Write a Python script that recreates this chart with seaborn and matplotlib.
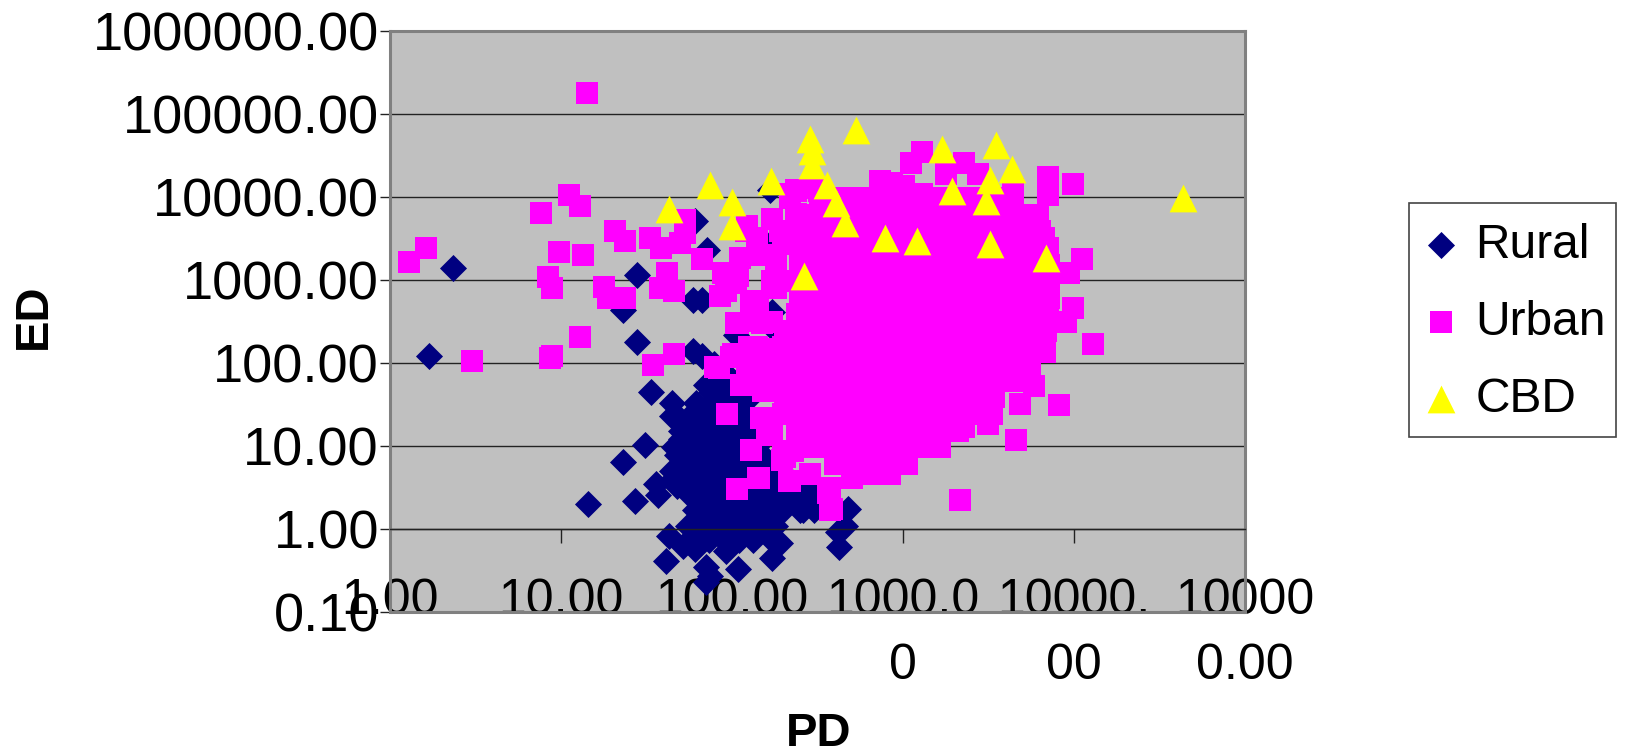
import pandas as pd
import seaborn as sns
import matplotlib
matplotlib.use('Agg')
import matplotlib.pyplot as plt
from matplotlib.patches import Rectangle

sns.set_style("ticks")
plt.rcParams['font.family'] = ['Liberation Sans', 'DejaVu Sans']
plt.rcParams['text.color'] = 'black'
plt.rcParams['xtick.labelcolor'] = 'black'
plt.rcParams['ytick.labelcolor'] = 'black'

# values (log-log, so everything is estimated)
x_ticks = [1, 10, 100, 1000, 10000, 100000]
x_labels = ['1.00', '10.00', '100.00', '1000.0\n0', '10000.\n00', '10000\n0.00']
y_ticks = [0.1, 1, 10, 100, 1000, 10000, 100000, 1000000]
y_labels = ['0.10', '1.00', '10.00', '100.00', '1000.00', '10000.00', '100000.00', '1000000.00']

cbd_pd = [42.7, 74.6, 100, 100, 168, 265, 285, 293, 293, 360, 403, 457, 534, 790, 1200,
          1680, 1930, 3510, 4330, 3230, 3050, 3230, 6860, 43300]
cbd_ed = [7080, 14100, 8700, 4470, 15800, 1120, 50000, 35500, 24500, 13800, 8400, 4900, 64700, 3240, 2990,
          37600, 11900, 42200, 21900, 16200, 8900, 2750, 1820, 9800]

# urban points that stand clear of the dense cloud
urban_pd = [14.2, 11.1, 12.9, 7.6, 20.7, 23.7, 33, 38.5, 49.6, 53, 53, 67, 41.7, 38, 46, 17.9, 23.7, 18.9,
            8.4, 8.9, 9.7, 13.4, 1.29, 1.62, 12.9, 8.6, 8.8, 3.0, 34.5, 45.5, 84, 101, 93, 148, 129, 197,
            216, 143, 107, 385, 364, 121, 150, 172, 218, 324, 109, 92, 109, 172, 130, 150, 185, 125, 99,
            156, 172, 136, 113, 80, 237,
            1290, 1120, 2280, 1790, 2730, 735, 860, 1010, 1290, 7080, 7080, 9860, 4370, 6170, 6720, 7080,
            11200, 9330, 9860, 8980, 12900, 8130, 5800, 4830, 4600, 3150, 2280, 2150, 6800, 1500, 1015,
            700, 505, 372, 372, 218, 203, 130, 142, 172,
            190, 198, 122, 140, 112, 88, 106, 84.6, 141, 182, 141, 106, 172, 140, 102, 218, 218, 237, 296,
            237, 265, 182, 160, 198, 227, 286, 505, 166, 123, 152, 210]
urban_ed = [178000, 10500, 7800, 6400, 3900, 2950, 3200, 2430, 2790, 3660, 5290, 1790, 1210, 800, 740, 820,
            600, 600, 1090, 800, 2180, 2000, 1630, 2420, 205, 115, 120, 105, 95, 128, 87, 128, 24, 22, 9,
            6.8, 3.8, 4.1, 3.0, 1.74, 2.7, 3860, 1990, 5500, 9700, 11900, 1120, 730, 306, 970, 550, 306,
            149, 158, 119, 84, 47, 112, 54, 89, 12300,
            34600, 25800, 25800, 18800, 18800, 15500, 14700, 13500, 11000, 17300, 10600, 14500, 12600,
            5960, 3240, 2250, 1780, 1230, 457, 309, 168, 31, 53, 32, 11.9, 18.3, 16.8, 2.24, 137, 11.6,
            6.7, 4.6, 4.1, 1.7, 3.1, 3.8, 7.3, 8.9, 4.1, 13.7,
            3870, 2750, 4470, 3250, 1830, 1230, 920, 650, 565, 795, 325, 306, 315, 154, 130, 154, 10900,
            11900, 12900, 6300, 4730, 1540, 15, 8, 8.7, 4.6, 4.6, 80, 75, 46, 37]

# dense cloud, one estimated PD list per ED band
urban_band_ed = [9700, 6100, 3860, 2450, 1530, 970, 610, 390, 245, 154, 97, 61, 39, 24, 15, 9.7, 6.1, 4.6]
urban_band_pd = [
    [325, 420, 530, 670, 850, 1080, 1370, 1730, 2200, 2780, 3500, 4400],
    [260, 330, 415, 530, 670, 850, 1070, 1360, 1720, 2190, 2770, 3510, 4450, 5640],
    [258, 328, 415, 527, 668, 847, 1070, 1360, 1725, 2190, 2770, 3510, 4450, 5640, 6300],
    [255, 325, 410, 525, 665, 845, 1065, 1355, 1720, 2185, 2765, 3505, 4445, 5635, 7000],
    [250, 320, 415, 530, 670, 850, 1075, 1365, 1730, 2195, 2775, 3515, 4455, 5645, 7100],
    [205, 260, 330, 420, 530, 670, 850, 1070, 1360, 1725, 2190, 2770, 3510, 4450, 5640, 7150],
    [250, 325, 415, 527, 668, 847, 1070, 1360, 1725, 2190, 2770, 3510, 4450, 5640, 7100],
    [240, 310, 400, 520, 660, 840, 1065, 1355, 1720, 2185, 2765, 3505, 4445, 5635, 7000],
    [205, 258, 328, 415, 527, 668, 847, 1070, 1360, 1725, 2190, 2770, 3510, 4450, 5640, 6900],
    [200, 255, 325, 410, 525, 665, 845, 1065, 1355, 1720, 2185, 2765, 3505, 4445, 5635, 6700],
    [195, 250, 320, 415, 530, 670, 850, 1075, 1365, 1730, 2195, 2775, 3515, 4455, 5500],
    [200, 258, 328, 415, 527, 668, 847, 1070, 1360, 1725, 2190, 2770, 3510, 4450],
    [205, 260, 330, 420, 530, 670, 850, 1070, 1360, 1725, 2190, 2770, 3400],
    [200, 255, 325, 410, 525, 665, 845, 1065, 1355, 1720, 2185, 2700, 3300],
    [240, 310, 400, 520, 660, 840, 1065, 1355, 1720, 2100],
    [300, 380, 480, 610, 780, 990, 1260, 1650],
    [400, 510, 650, 830, 1050],
    [520, 660, 840],
]

# rural points around the lower left of the cloud
rural_pd = [2.34, 1.68, 28, 23, 28, 33.6, 44.5, 44.5, 23, 31, 14.4, 27, 36, 44.5, 37, 43, 41, 52, 60.6, 70,
            74, 70, 108, 92, 172, 190, 172, 425, 457, 480, 415, 260, 322, 60.6, 71.5, 59, 67, 166, 160,
            172, 185, 59, 67, 79, 70, 92, 106, 86, 121]
rural_ed = [1410, 122, 1150, 435, 178, 45, 33, 23, 6.5, 10.3, 2, 2.2, 3.5, 5, 2.6, 0.82, 0.41, 0.63, 0.58,
            0.35, 0.27, 0.23, 0.33, 0.55, 0.45, 0.68, 0.73, 0.6, 1.1, 1.73, 0.92, 1.7, 2.7, 5130, 2300,
            575, 575, 12300, 2650, 410, 230, 141, 122, 97, 54, 73, 218, 41, 35]
rural_band_ed = [60, 45, 33, 23, 19, 15, 12, 9.7, 7.8, 6.3, 5.1, 4.1, 3.3, 2.7, 2.1, 1.7, 1.1, 0.73]
rural_band_pd = [
    [85, 100, 120],
    [75, 90, 108, 125],
    [62, 75, 90, 108],
    [48, 57, 68, 82, 98, 120],
    [55, 65, 78, 95, 112],
    [50, 60, 72, 88, 105, 125],
    [50, 60, 72, 88, 105, 125, 145],
    [46, 55, 66, 79, 95, 115, 138],
    [48, 58, 70, 85, 102, 125, 150],
    [53, 64, 76, 92, 112, 135, 165],
    [50, 60, 72, 88, 108, 130, 158, 190],
    [46, 55, 67, 81, 98, 118, 143, 175, 205],
    [48, 58, 70, 86, 105, 128, 160, 195, 240, 285],
    [55, 67, 82, 100, 122, 150, 185, 225, 275],
    [63, 77, 94, 115, 140, 172, 210, 260, 310],
    [61, 74, 90, 110, 135, 165, 200, 250, 300],
    [55, 67, 82, 100, 122, 150, 178],
    [60, 73, 90, 110, 132],
]


def build_table(pd_list, ed_list, band_ed, band_pd):
    xs = list(pd_list)
    ys = list(ed_list)
    for ed, row in zip(band_ed, band_pd):
        xs += row
        ys += [ed] * len(row)
    return pd.DataFrame({'PD': xs, 'ED': ys})


rural = build_table(rural_pd, rural_ed, rural_band_ed, rural_band_pd)
urban = build_table(urban_pd, urban_ed, urban_band_ed, urban_band_pd)
cbd = pd.DataFrame({'PD': cbd_pd, 'ED': cbd_ed})

W, H = 1626, 753
fig = plt.figure(figsize=(W / 100, H / 100), dpi=100)
ax = fig.add_axes([390 / W, 1 - 612 / H, (1245 - 390) / W, (612 - 31) / H])
ax.set_facecolor('#C0C0C0')

sns.scatterplot(data=rural, x='PD', y='ED', marker='D', color='#000080', s=190, linewidth=0, label='Rural', ax=ax)
sns.scatterplot(data=urban, x='PD', y='ED', marker='s', color='#FF00FF', s=265, linewidth=0, label='Urban', ax=ax)
sns.scatterplot(data=cbd, x='PD', y='ED', marker='^', color='#FFFF00', s=400, linewidth=0, label='CBD', ax=ax)

ax.set_xscale('log')
ax.set_yscale('log')
ax.set_xlim(1, 100000)
ax.set_ylim(0.1, 1000000)
ax.set_xticks(x_ticks)
ax.set_xticklabels(x_labels)
ax.set_yticks(y_ticks)
ax.set_yticklabels(y_labels)
ax.minorticks_off()
ax.yaxis.grid(True, color='#222222', lw=1)
ax.xaxis.grid(False)
ax.set_axisbelow(True)
ax.set_xlabel('')
ax.set_ylabel('')

# x axis crosses at ED = 1, as in the spreadsheet chart
ax.spines['bottom'].set_position(('data', 1))
ax.spines['bottom'].set_color('#222222')
ax.spines['bottom'].set_linewidth(1)
for side in ['left', 'top', 'right']:
    ax.spines[side].set_color('#808080')
    ax.spines[side].set_linewidth(2.2)
ax.axhline(0.1, color='#808080', lw=2.2, clip_on=False, zorder=1.2)

ax.tick_params(axis='x', labelsize=36, length=10, width=1, color='#222222', pad=25)
ax.tick_params(axis='y', labelsize=39, length=7, width=1, color='#222222', pad=1)
for t in ax.get_xticklabels():
    t.set_linespacing(1.55)

fig.text(819 / W, 1 - 734 / H, 'PD', fontsize=34, fontweight='bold', ha='center', va='center')
fig.text(34 / W, 1 - 316 / H, 'ED', fontsize=34, fontweight='bold', rotation=90, ha='center', va='center')

# legend box is drawn apart so its padding can differ per side
fig.add_artist(Rectangle((1409 / W, 1 - 437 / H), (1616 - 1409) / W, (437 - 203) / H, transform=fig.transFigure,
                         facecolor='white', edgecolor='#444444', linewidth=1.2, zorder=-1))
ax.legend(loc='upper left', bbox_to_anchor=(1425 / W, 1 - 223 / H), bbox_transform=fig.transFigure,
          borderaxespad=0, fontsize=34.5, frameon=False, labelspacing=0.667, handlelength=0.66,
          handletextpad=0.39, borderpad=0)

fig.savefig('out.png', dpi=100)
